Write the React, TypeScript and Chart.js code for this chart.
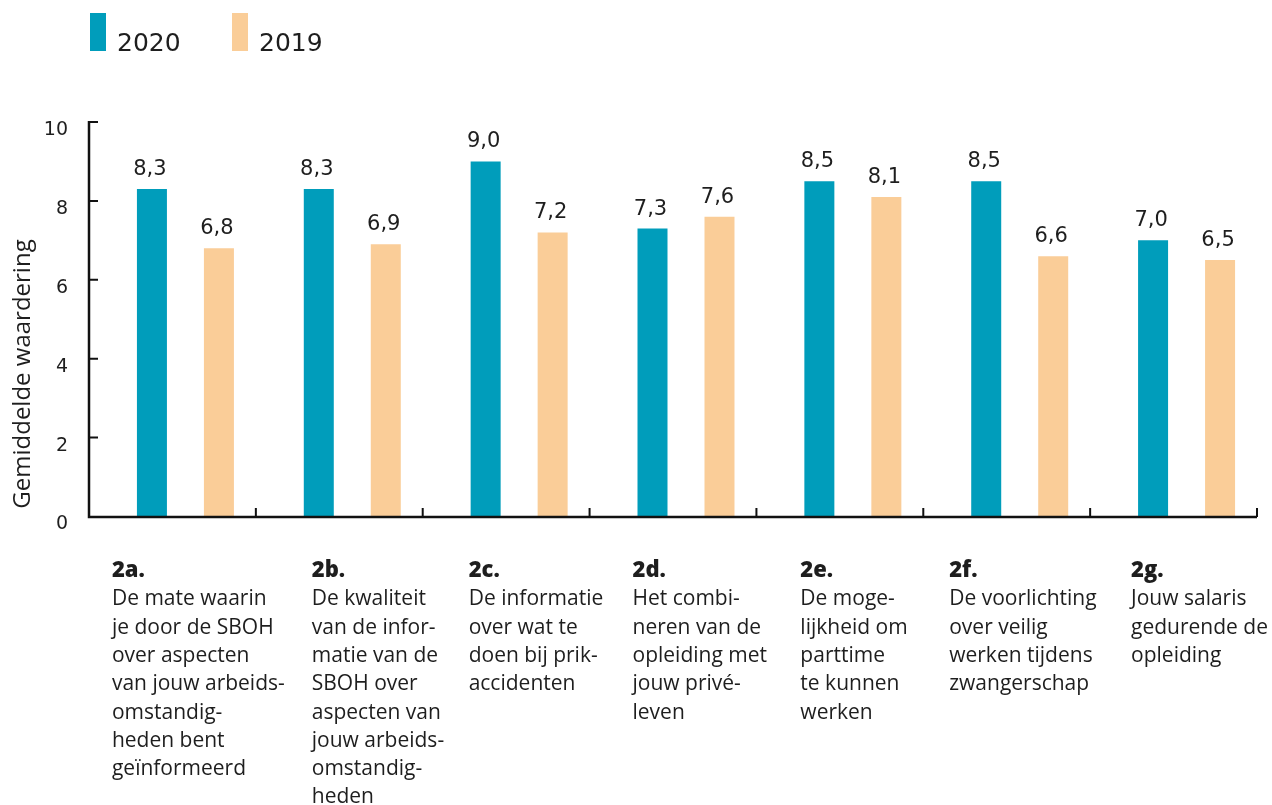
import React, { useEffect, useRef } from "react";
import { Chart, registerables } from "chart.js";

Chart.register(...registerables);

// ---------- data ----------
const CATEGORY_CODES = ["2a.", "2b.", "2c.", "2d.", "2e.", "2f.", "2g."];
const CATEGORY_TEXT: string[][] = [
  ["De mate waarin", "je door de SBOH", "over aspecten", "van jouw arbeids-", "omstandig-", "heden bent", "geïnformeerd"],
  ["De kwaliteit", "van de infor-", "matie van de", "SBOH over", "aspecten van", "jouw arbeids-", "omstandig-", "heden"],
  ["De informatie", "over wat te", "doen bij prik-", "accidenten"],
  ["Het combi-", "neren van de", "opleiding met", "jouw privé-", "leven"],
  ["De moge-", "lijkheid om", "parttime", "te kunnen", "werken"],
  ["De voorlichting", "over veilig", "werken tijdens", "zwangerschap"],
  ["Jouw salaris", "gedurende de", "opleiding"],
];
const SERIES_LABELS = ["2020", "2019"];
const VALUES_2020 = [8.3, 8.3, 9.0, 7.3, 8.5, 8.5, 7.0];
const VALUES_2019 = [6.8, 6.9, 7.2, 7.6, 8.1, 6.6, 6.5];
const Y_TICKS = [0, 2, 4, 6, 8, 10];
const Y_TITLE = "Gemiddelde waardering";

// ---------- style ----------
const COLORS = ["#009dbb", "#facd98"];
const TEXT_COLOR = "#1e1e1e";
const AXIS_COLOR = "#111111";
const AXIS_SHIFT = -13; // y axis line relative to chart area left
const LABEL_NUDGE = [-25, 8, -2, -5, -4, -22, -7]; // label x relative to first bar's left edge
const LABEL_FIRST_BASELINE = 577;
const LABEL_LINE_HEIGHT = 28.3;
const LABEL_FONT = "'Open Sans', sans-serif";

const fmt = (v: number) => v.toFixed(1).replace(".", ",");

const customDraw = {
  id: "customDraw",
  afterDraw(chart: any) {
    const ctx: CanvasRenderingContext2D = chart.ctx;
    const area = chart.chartArea;
    const xs = chart.scales.x;
    const ys = chart.scales.y;
    const catW = xs.getPixelForValue(1) - xs.getPixelForValue(0);
    const axisX = area.left + AXIS_SHIFT;
    const axisY = ys.getPixelForValue(0) + 0.5;
    const axisRight = axisX + catW * CATEGORY_CODES.length;
    ctx.save();

    // axes
    ctx.strokeStyle = AXIS_COLOR;
    ctx.lineWidth = 2.5;
    ctx.lineCap = "butt";
    ctx.beginPath();
    ctx.moveTo(axisX, ys.getPixelForValue(10) - 1);
    ctx.lineTo(axisX, axisY + 1.25);
    ctx.moveTo(axisX - 1.25, axisY);
    ctx.lineTo(axisRight, axisY);
    ctx.stroke();

    ctx.lineWidth = 2;
    ctx.beginPath();
    Y_TICKS.forEach((t) => {
      if (t === 0) return;
      const py = ys.getPixelForValue(t);
      ctx.moveTo(axisX, py);
      ctx.lineTo(axisX + 9, py);
    });
    for (let k = 1; k <= CATEGORY_CODES.length; k++) {
      const px = axisX + catW * k;
      ctx.moveTo(px, axisY);
      ctx.lineTo(px, axisY - 9);
    }
    ctx.stroke();

    // y tick labels
    ctx.fillStyle = TEXT_COLOR;
    ctx.font = "19px 'DejaVu Sans'";
    ctx.textAlign = "right";
    ctx.textBaseline = "middle";
    Y_TICKS.forEach((t) => {
      ctx.fillText(String(t), 68, ys.getPixelForValue(t) + 8);
    });

    // y title
    ctx.save();
    ctx.translate(23, 374);
    ctx.rotate(-Math.PI / 2);
    ctx.font = `24px ${LABEL_FONT}`;
    ctx.textAlign = "center";
    ctx.textBaseline = "middle";
    ctx.fillText(Y_TITLE, 0, 0);
    ctx.restore();

    // value labels
    ctx.font = "21px 'DejaVu Sans'";
    ctx.textAlign = "center";
    ctx.textBaseline = "alphabetic";
    chart.data.datasets.forEach((ds: any, di: number) => {
      const meta = chart.getDatasetMeta(di);
      meta.data.forEach((bar: any, i: number) => {
        ctx.fillText(fmt(ds.data[i]), bar.x - 2, bar.y - 14);
      });
    });

    // category labels
    ctx.textAlign = "left";
    const firstMeta = chart.getDatasetMeta(0);
    CATEGORY_CODES.forEach((code, i) => {
      const bar: any = firstMeta.data[i];
      const lx = bar.x - bar.width / 2 + LABEL_NUDGE[i];
      ctx.font = `800 22px ${LABEL_FONT}`;
      ctx.fillText(code, lx, LABEL_FIRST_BASELINE);
      ctx.font = `21px ${LABEL_FONT}`;
      CATEGORY_TEXT[i].forEach((line, j) => {
        ctx.fillText(line, lx, LABEL_FIRST_BASELINE + LABEL_LINE_HEIGHT * (j + 1));
      });
    });

    // legend
    const legendX = [90, 232];
    ctx.font = "25px 'DejaVu Sans'";
    chart.data.datasets.forEach((ds: any, di: number) => {
      ctx.fillStyle = ds.backgroundColor;
      ctx.fillRect(legendX[di], 13, 16, 38);
      ctx.fillStyle = TEXT_COLOR;
      ctx.fillText(ds.label, legendX[di] + 27, 51);
    });

    ctx.restore();
  },
};

export default function App() {
  const ref = useRef<HTMLCanvasElement | null>(null);
  useEffect(() => {
    if (!ref.current) return;
    const chart = new Chart(ref.current, {
      type: "bar",
      data: {
        labels: CATEGORY_CODES,
        datasets: [
          { label: SERIES_LABELS[0], data: VALUES_2020, backgroundColor: COLORS[0] },
          { label: SERIES_LABELS[1], data: VALUES_2019, backgroundColor: COLORS[1] },
        ],
      },
      options: {
        responsive: false,
        maintainAspectRatio: false,
        animation: false,
        devicePixelRatio: 1,
        layout: { padding: { left: 102, right: 2, top: 122, bottom: 288.5 } },
        datasets: { bar: { barPercentage: 0.4478, categoryPercentage: 0.803, borderWidth: 0 } },
        plugins: { legend: { display: false }, tooltip: { enabled: false } },
        scales: {
          x: { type: "category", display: false, offset: true },
          y: { min: 0, max: 10, display: false },
        },
      },
      plugins: [customDraw],
    });
    return () => chart.destroy();
  }, []);
  return (
    <div style={{ position: "absolute", left: 0, top: 0, width: 1272, height: 805, background: "#fff" }}>
      <canvas ref={ref} width={1272} height={805} style={{ display: "block" }} />
    </div>
  );
}
